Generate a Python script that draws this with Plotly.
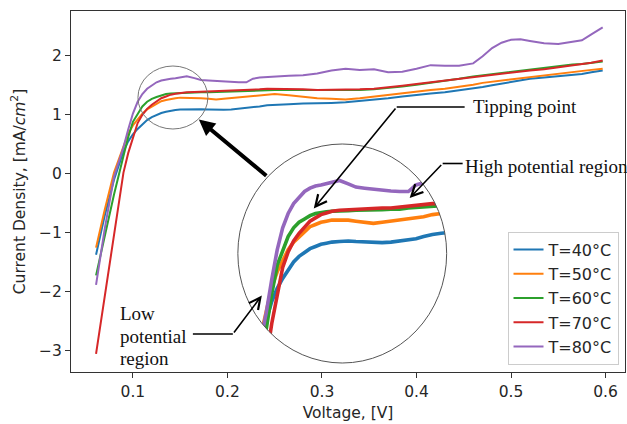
import numpy as np
import plotly.graph_objects as go

# ---------------- data ----------------
voltage = [0.061, 0.070, 0.080, 0.090, 0.095, 0.100, 0.105, 0.110, 0.115, 0.120,
           0.125, 0.130, 0.135, 0.140, 0.145, 0.150, 0.157, 0.165, 0.172, 0.180,
           0.188, 0.196, 0.204, 0.212, 0.220, 0.227, 0.234, 0.242, 0.250, 0.265,
           0.280, 0.295, 0.310, 0.325, 0.340, 0.355, 0.370, 0.385, 0.400, 0.415,
           0.430, 0.445, 0.460, 0.470, 0.480, 0.490, 0.500, 0.510, 0.520, 0.535,
           0.550, 0.565, 0.575, 0.585, 0.597]

j_40 = [-1.37, -0.72, -0.10, 0.38, 0.55, 0.67, 0.76, 0.84, 0.91, 0.96,
        1.00, 1.03, 1.05, 1.07, 1.08, 1.09, 1.095, 1.10, 1.095, 1.09,
        1.085, 1.085, 1.09, 1.10, 1.11, 1.12, 1.14, 1.16, 1.17, 1.18,
        1.19, 1.19, 1.20, 1.21, 1.23, 1.25, 1.28, 1.31, 1.34, 1.36,
        1.38, 1.41, 1.44, 1.47, 1.50, 1.53, 1.56, 1.59, 1.61, 1.63,
        1.65, 1.67, 1.69, 1.72, 1.75]

j_50 = [-1.25, -0.62, 0.02, 0.48, 0.68, 0.82, 0.93, 1.02, 1.09, 1.14,
        1.19, 1.23, 1.25, 1.27, 1.28, 1.29, 1.29, 1.29, 1.28, 1.27,
        1.26, 1.27, 1.28, 1.29, 1.30, 1.31, 1.32, 1.34, 1.35, 1.33,
        1.30, 1.28, 1.27, 1.26, 1.28, 1.31, 1.34, 1.37, 1.40, 1.42,
        1.44, 1.47, 1.51, 1.54, 1.56, 1.58, 1.60, 1.62, 1.64, 1.66,
        1.69, 1.72, 1.74, 1.76, 1.78]

j_60 = [-1.72, -1.05, -0.35, 0.30, 0.62, 0.88, 1.02, 1.14, 1.22, 1.27,
        1.30, 1.33, 1.35, 1.36, 1.365, 1.37, 1.37, 1.375, 1.38, 1.38,
        1.385, 1.385, 1.39, 1.39, 1.40, 1.405, 1.41, 1.42, 1.42, 1.42,
        1.42, 1.41, 1.41, 1.42, 1.42, 1.43, 1.45, 1.48, 1.51, 1.54,
        1.57, 1.61, 1.65, 1.67, 1.69, 1.71, 1.73, 1.75, 1.77, 1.79,
        1.82, 1.85, 1.86, 1.88, 1.90]

j_70 = [-3.05, -2.09, -1.02, 0.02, 0.35, 0.62, 0.86, 1.00, 1.10, 1.17,
        1.23, 1.28, 1.31, 1.34, 1.355, 1.37, 1.38, 1.385, 1.39, 1.39,
        1.395, 1.40, 1.40, 1.41, 1.42, 1.425, 1.43, 1.44, 1.44, 1.44,
        1.43, 1.42, 1.42, 1.43, 1.43, 1.44, 1.46, 1.49, 1.52, 1.55,
        1.58, 1.61, 1.64, 1.66, 1.68, 1.70, 1.72, 1.73, 1.75, 1.77,
        1.80, 1.83, 1.85, 1.88, 1.92]

j_80 = [-1.88, -0.95, -0.05, 0.45, 0.75, 1.02, 1.22, 1.35, 1.44, 1.50,
        1.55, 1.58, 1.60, 1.61, 1.62, 1.635, 1.65, 1.62, 1.59, 1.58,
        1.57, 1.56, 1.555, 1.55, 1.55, 1.61, 1.63, 1.64, 1.65, 1.66,
        1.67, 1.70, 1.75, 1.78, 1.76, 1.77, 1.72, 1.73, 1.78, 1.84,
        1.83, 1.83, 1.87, 1.99, 2.13, 2.22, 2.27, 2.28, 2.25, 2.21,
        2.20, 2.23, 2.26, 2.36, 2.48]

series_names = ["T=40°C", "T=50°C", "T=60°C", "T=70°C", "T=80°C"]
series_values = [j_40, j_50, j_60, j_70, j_80]
colors = ["#1f77b4", "#ff7f0e", "#2ca02c", "#d62728", "#9467bd"]

x_ticks = [0.1, 0.2, 0.3, 0.4, 0.5, 0.6]
x_ticklabels = ["0.1", "0.2", "0.3", "0.4", "0.5", "0.6"]
y_ticks = [-3, -2, -1, 0, 1, 2]
y_ticklabels = ["\u22123", "\u22122", "\u22121", "0", "1", "2"]

# ---------------- geometry ----------------
W, H = 627, 424
PL, PR, PT, PB = 71, 625.5, 11, 372          # plot box in pixels
XR = [0.0345, 0.6206]
YR = [-3.356, 2.757]


def dx(px):
    return XR[0] + (px - PL) / (PR - PL) * (XR[1] - XR[0])


def dy(py):
    return YR[0] + (PB - py) / (PB - PT) * (YR[1] - YR[0])


def paper_x(px):
    return (px - PL) / (PR - PL)


def paper_y(py):
    return (PB - py) / (PB - PT)


# inset (magnified view inside the big circle)
CX0, CX1, CY0, CY1 = 238, 447, 144, 363      # circle bounding box (px)
PAD = 4
IX0, IX1, IY0, IY1 = CX0 - PAD, CX1 + PAD, CY0 - PAD, CY1 + PAD


def inset_v(px):      # inset x pixel -> voltage
    return (px - 168) / 1094.0


def inset_j(py):      # inset y pixel -> current density
    return (362 - py) / 110.0


fig = go.Figure()

for name, vals, col in zip(series_names, series_values, colors):
    fig.add_trace(go.Scatter(x=voltage, y=vals, mode="lines", name=name,
                             line=dict(color=col, width=2), legendgroup=name,
                             xaxis="x", yaxis="y"))

for name, vals, col in zip(series_names, series_values, colors):
    fig.add_trace(go.Scatter(x=voltage, y=vals, mode="lines", name=name,
                             line=dict(color=col, width=3.6), showlegend=False,
                             xaxis="x2", yaxis="y2", hoverinfo="skip"))

# mask: white rectangle with an elliptical hole, covers inset outside circle
ecx, ecy = (CX0 + CX1) / 2, (CY0 + CY1) / 2
erx, ery = (CX1 - CX0) / 2, (CY1 - CY0) / 2
t = np.linspace(0, 2 * np.pi, 120, endpoint=False)
pts = [(paper_x(ecx + erx * np.cos(a)), paper_y(ecy + ery * np.sin(a))) for a in t]
rect = [(paper_x(IX0 - 1), paper_y(IY0 - 1)), (paper_x(IX1 + 1), paper_y(IY0 - 1)),
        (paper_x(IX1 + 1), paper_y(IY1 + 1)), (paper_x(IX0 - 1), paper_y(IY1 + 1))]
path = "M " + " L ".join(f"{a:.5f},{b:.5f}" for a, b in rect) + " Z "
path += "M " + " L ".join(f"{a:.5f},{b:.5f}" for a, b in pts) + " Z"

shapes = [
    dict(type="path", path=path, xref="paper", yref="paper", fillcolor="white",
         line=dict(width=0), layer="above", fillrule="evenodd"),
    dict(type="circle", xref="x", yref="y", x0=dx(CX0), x1=dx(CX1), y0=dy(CY1), y1=dy(CY0),
         line=dict(color="#555555", width=1), layer="above"),
    dict(type="circle", xref="x", yref="y", x0=dx(138), x1=dx(208), y0=dy(129), y1=dy(66),
         line=dict(color="#777777", width=1), layer="above"),
    # horizontal leader segments
    dict(type="line", xref="x", yref="y", x0=dx(397), x1=dx(465), y0=dy(107), y1=dy(107),
         line=dict(color="black", width=1.6), layer="above"),
    dict(type="line", xref="x", yref="y", x0=dx(443), x1=dx(463), y0=dy(163.5), y1=dy(163.5),
         line=dict(color="black", width=1.6), layer="above"),
    dict(type="line", xref="x", yref="y", x0=dx(193), x1=dx(233), y0=dy(334), y1=dy(334),
         line=dict(color="black", width=1.6), layer="above"),
]

serif = dict(family="Liberation Serif, Times New Roman, serif", size=19, color="#111111")


def arrow(hx, hy, tx, ty, width=1.6, head=5, size=1.4):
    return dict(x=dx(hx), y=dy(hy), ax=dx(tx), ay=dy(ty), xref="x", yref="y",
                axref="x", ayref="y", text="", showarrow=True, arrowhead=head,
                arrowwidth=width, arrowsize=size, arrowcolor="black", standoff=0)


annotations = [
    arrow(199, 119.5, 268, 177, width=4, head=2, size=0.8),
    arrow(314, 208.5, 397, 107),
    arrow(410, 198, 443, 163.5),
    arrow(262, 295.5, 233, 334),
    dict(x=dx(471), y=dy(106), xref="x", yref="y", text="Tipping point", showarrow=False,
         xanchor="left", yanchor="middle", font=serif),
    dict(x=dx(463), y=dy(166), xref="x", yref="y", text="High potential region",
         showarrow=False, xanchor="left", yanchor="middle", font=serif),
    dict(x=dx(118), y=dy(313), xref="x", yref="y", text="Low", showarrow=False,
         xanchor="left", yanchor="middle", font=serif),
    dict(x=dx(118), y=dy(336), xref="x", yref="y", text="potential", showarrow=False,
         xanchor="left", yanchor="middle", font=serif),
    dict(x=dx(118), y=dy(358), xref="x", yref="y", text="region", showarrow=False,
         xanchor="left", yanchor="middle", font=serif),
]

axis_font = dict(family="DejaVu Sans", size=15.5, color="#262626")

fig.update_layout(
    width=W, height=H,
    margin=dict(l=PL, r=W - PR, t=PT, b=H - PB, autoexpand=False),
    paper_bgcolor="white", plot_bgcolor="white",
    font=dict(family="DejaVu Sans", size=16, color="#262626"),
    showlegend=True,
    legend=dict(x=paper_x(619), y=paper_y(364.5), xanchor="right", yanchor="bottom",
                bgcolor="rgba(255,255,255,0.85)", bordercolor="#cccccc", borderwidth=1,
                font=dict(family="DejaVu Sans", size=16, color="#262626"),
                tracegroupgap=0.5),
    xaxis=dict(domain=[0, 1], range=XR, tickvals=x_ticks, ticktext=x_ticklabels,
               showgrid=False, zeroline=False, showline=True, mirror=True,
               linecolor="#333333", linewidth=1.2, ticks="outside", ticklen=5,
               tickcolor="#333333", tickfont=axis_font, automargin=False,
               title=dict(text="Voltage, [V]", font=axis_font, standoff=7)),
    yaxis=dict(domain=[0, 1], range=YR, tickvals=y_ticks, ticktext=y_ticklabels,
               showgrid=False, zeroline=False, showline=True, mirror=True,
               linecolor="#333333", linewidth=1.2, ticks="outside", ticklen=5,
               tickcolor="#333333", tickfont=axis_font, automargin=False,
               title=dict(text="Current Density, [mA/<i>cm</i><sup>2</sup>]",
                          font=axis_font, standoff=9)),
    xaxis2=dict(domain=[paper_x(IX0), paper_x(IX1)], range=[inset_v(IX0), inset_v(IX1)],
                anchor="y2", visible=False, showgrid=False, zeroline=False),
    yaxis2=dict(domain=[paper_y(IY1), paper_y(IY0)], range=[inset_j(IY1), inset_j(IY0)],
                anchor="x2", visible=False, showgrid=False, zeroline=False),
    shapes=shapes,
    annotations=annotations,
)

fig.write_html("out.html", config={"displayModeBar": False},
               post_script="document.body.style.margin='0';document.body.style.overflow='hidden';")
